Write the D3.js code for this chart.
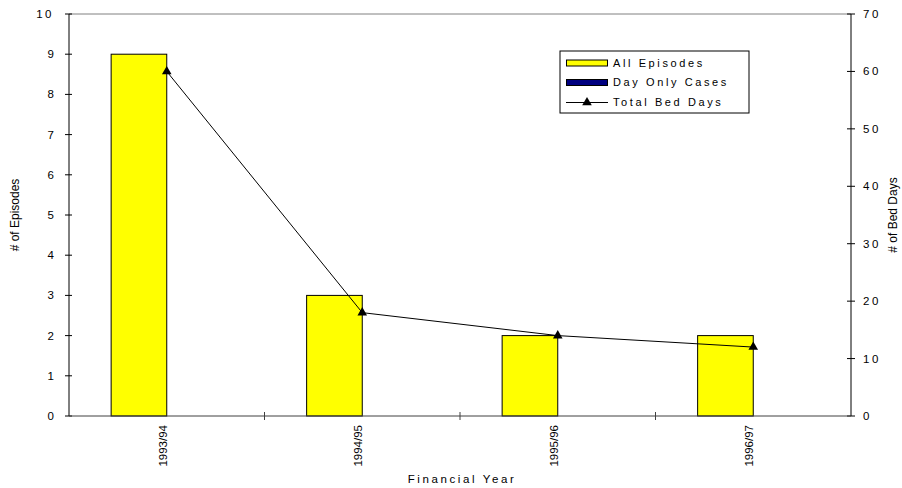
<!DOCTYPE html>
<html>
<head>
<meta charset="utf-8">
<script src="https://cdn.jsdelivr.net/npm/d3@7/dist/d3.min.js"></script>
<style>
  html, body { margin: 0; padding: 0; background: #fff; }
  svg { display: block; font-family: "Liberation Sans", Arial, sans-serif; }
  text { fill: #000; }
</style>
</head>
<body>
<svg id="chart" width="902" height="488"></svg>
<script>
// Financial years and the three series
const years = ["1993/94", "1994/95", "1995/96", "1996/97"];
const allEpisodes = [9, 3, 2, 2];
const dayOnlyCases = [0, 0, 0, 0];
const totalBedDays = [60, 18, 14, 12];
const episodeTicks = [0, 1, 2, 3, 4, 5, 6, 7, 8, 9, 10];
const bedDayTicks = [0, 10, 20, 30, 40, 50, 60, 70];

const svg = d3.select("#chart");
const plot = { left: 69, right: 851, top: 14, bottom: 416 };

const x = d3.scaleBand().domain(years).range([plot.left, plot.right]).paddingInner(0).paddingOuter(0);
const yL = d3.scaleLinear().domain([0, 10]).range([plot.bottom, plot.top]);
const yR = d3.scaleLinear().domain([0, 70]).range([plot.bottom, plot.top]);

const bw = x.bandwidth();
const barW = bw * 0.2845;
const center = d => x(d) + bw / 2;

// plot area top border
svg.append("line")
  .attr("x1", plot.left).attr("x2", plot.right)
  .attr("y1", plot.top).attr("y2", plot.top)
  .attr("stroke", "#808080").attr("stroke-width", 1);

// bars: All Episodes (left of centre), Day Only Cases (right of centre)
svg.append("g").selectAll("rect").data(years).join("rect")
  .attr("x", d => center(d) - barW)
  .attr("y", (d, i) => yL(allEpisodes[i]))
  .attr("width", barW)
  .attr("height", (d, i) => yL(0) - yL(allEpisodes[i]))
  .attr("fill", "#ffff00").attr("stroke", "#000").attr("stroke-width", 1);

svg.append("g").selectAll("rect").data(years).join("rect")
  .attr("x", d => center(d))
  .attr("y", (d, i) => yL(dayOnlyCases[i]))
  .attr("width", barW)
  .attr("height", (d, i) => yL(0) - yL(dayOnlyCases[i]))
  .attr("fill", "#000080").attr("stroke", "#000").attr("stroke-width", 1);

// left axis
const gL = svg.append("g").attr("transform", `translate(${plot.left},0)`);
gL.append("line").attr("y1", plot.top).attr("y2", plot.bottom).attr("stroke", "#000");
gL.selectAll("line.t").data(episodeTicks).join("line").attr("class", "t")
  .attr("x1", -4).attr("x2", 3).attr("y1", d => yL(d)).attr("y2", d => yL(d)).attr("stroke", "#000");
gL.selectAll("text").data(episodeTicks).join("text")
  .attr("x", -15).attr("y", d => yL(d)).attr("dy", "0.35em")
  .attr("text-anchor", "end").attr("font-size", 11.5).attr("letter-spacing", d => d >= 10 ? 2.5 : 0)
  .text(d => d);

// right axis
const gR = svg.append("g").attr("transform", `translate(${plot.right},0)`);
gR.append("line").attr("y1", plot.top).attr("y2", plot.bottom).attr("stroke", "#000");
gR.selectAll("line.t").data(bedDayTicks).join("line").attr("class", "t")
  .attr("x1", -4).attr("x2", 4).attr("y1", d => yR(d)).attr("y2", d => yR(d)).attr("stroke", "#000");
gR.selectAll("text").data(bedDayTicks).join("text")
  .attr("x", 12).attr("y", d => yR(d)).attr("dy", "0.35em")
  .attr("text-anchor", "start").attr("font-size", 11.5).attr("letter-spacing", 2.5)
  .text(d => d);

// category axis
const gX = svg.append("g");
gX.append("line").attr("x1", plot.left).attr("x2", plot.right)
  .attr("y1", plot.bottom).attr("y2", plot.bottom).attr("stroke", "#404040");
const boundaries = years.slice(1).map(d => x(d));
gX.selectAll("line.t").data(boundaries).join("line").attr("class", "t")
  .attr("x1", d => d).attr("x2", d => d)
  .attr("y1", plot.bottom - 4).attr("y2", plot.bottom + 4).attr("stroke", "#404040");
gX.selectAll("text").data(years).join("text")
  .attr("transform", d => `translate(${center(d) - 4},${plot.bottom + 9}) rotate(-90)`)
  .attr("dy", "0.35em").attr("text-anchor", "end").attr("font-size", 11.5)
  .text(d => d);

// Total Bed Days line with triangle markers
const line = d3.line().x((d, i) => center(years[i])).y(d => yR(d));
svg.append("path").datum(totalBedDays).attr("d", line)
  .attr("fill", "none").attr("stroke", "#000").attr("stroke-width", 1);
const tri = d3.symbol().type(d3.symbolTriangle).size(40);
svg.append("g").selectAll("path").data(totalBedDays).join("path")
  .attr("d", tri)
  .attr("transform", (d, i) => `translate(${center(years[i])},${yR(d)})`)
  .attr("fill", "#000");

// axis titles
svg.append("text").attr("transform", "translate(19,215) rotate(-90)")
  .attr("text-anchor", "middle").attr("font-size", 12).text("# of Episodes");
svg.append("text").attr("transform", "translate(897,215) rotate(-90)")
  .attr("text-anchor", "middle").attr("font-size", 12).text("# of Bed Days");
svg.append("text").attr("x", 462).attr("y", 483)
  .attr("text-anchor", "middle").attr("font-size", 11.5).attr("letter-spacing", 2.6).text("Financial Year");

// legend
const legend = svg.append("g").attr("transform", "translate(560,51)");
legend.append("rect").attr("width", 189).attr("height", 62)
  .attr("fill", "#fff").attr("stroke", "#000").attr("stroke-width", 1);
const items = [
  { name: "All Episodes", kind: "bar", fill: "#ffff00" },
  { name: "Day Only Cases", kind: "bar", fill: "#000080" },
  { name: "Total Bed Days", kind: "line" }
];
const rowY = [12, 31.5, 51.5];
items.forEach((it, i) => {
  const g = legend.append("g").attr("transform", `translate(0,${rowY[i]})`);
  if (it.kind === "bar") {
    g.append("rect").attr("x", 6.5).attr("y", -3).attr("width", 41).attr("height", 6)
      .attr("fill", it.fill).attr("stroke", "#000");
  } else {
    g.append("line").attr("x1", 6).attr("x2", 48).attr("stroke", "#000");
    g.append("path").attr("d", tri).attr("transform", "translate(27,0)").attr("fill", "#000");
  }
  g.append("text").attr("x", 53).attr("dy", "0.35em").attr("font-size", 11)
    .attr("letter-spacing", 2.6).text(it.name);
});
</script>
</body>
</html>
